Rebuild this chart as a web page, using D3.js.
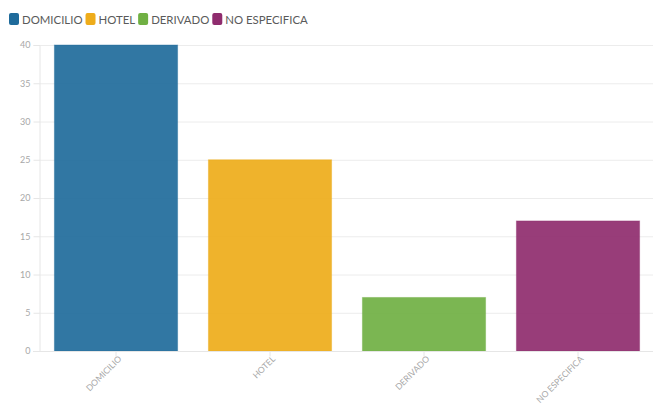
<!DOCTYPE html>
<html>
<head>
<meta charset="utf-8">
<script src="https://cdn.jsdelivr.net/npm/d3@7"></script>
<style>
  html, body { margin: 0; padding: 0; background: #fff; }
  svg { display: block; font-family: Lato, "Open Sans", sans-serif; }
</style>
</head>
<body>
<svg id="chart" width="653" height="405"></svg>
<script>
// Data
const categories = ["DOMICILIO", "HOTEL", "DERIVADO", "NO ESPECIFICA"];
const values = [40, 25, 7, 17];
const colors = ["#1f6b9b", "#eeac1a", "#70b043", "#8f2c6e"];
const yTicks = [0, 5, 10, 15, 20, 25, 30, 35, 40];

const svg = d3.select("#chart");
const margin = { top: 45, right: 0, bottom: 54, left: 39 };
const width = 653, height = 405;

const x = d3.scaleBand()
  .domain(categories)
  .range([margin.left, width - margin.right + 2])
  .paddingInner(0.2)
  .paddingOuter(0.1);

const y = d3.scaleLinear()
  .domain([0, 40])
  .range([height - margin.bottom, margin.top]);

// Horizontal grid lines
svg.append("g")
  .selectAll("line")
  .data(yTicks)
  .join("line")
  .attr("x1", margin.left)
  .attr("x2", width)
  .attr("y1", d => y(d) + 0.5)
  .attr("y2", d => y(d) + 0.5)
  .attr("stroke", "#ececec")
  .attr("stroke-width", 1);

// Y axis
const yAxis = svg.append("g")
  .attr("transform", `translate(${margin.left + 0.5},0)`)
  .call(d3.axisLeft(y).tickValues(yTicks).tickSize(6).tickPadding(3));
yAxis.select(".domain").attr("stroke", "#e6e6e6");
yAxis.selectAll(".tick line").attr("stroke", "#e6e6e6");
yAxis.selectAll(".tick text")
  .attr("fill", "#a8a8a8")
  .style("font-size", "9px")
  .style("font-family", "Lato, sans-serif");

// Bars
svg.append("g")
  .selectAll("rect")
  .data(categories)
  .join("rect")
  .attr("x", d => x(d))
  .attr("width", x.bandwidth())
  .attr("y", (d, i) => y(values[i]))
  .attr("height", (d, i) => y(0) - y(values[i]))
  .attr("fill", (d, i) => colors[i])
  .attr("fill-opacity", 0.92)
  .attr("stroke", (d, i) => colors[i])
  .attr("stroke-opacity", 0.4)
  .attr("stroke-width", 1);

// X axis
const xAxis = svg.append("g")
  .attr("transform", `translate(0,${y(0) + 0.5})`)
  .call(d3.axisBottom(x).tickSize(5).tickSizeOuter(0));
xAxis.select(".domain")
  .attr("stroke", "#e6e6e6")
  .attr("d", `M${margin.left - 6},0H${width}`);
xAxis.selectAll(".tick line").attr("stroke", "#e6e6e6");
xAxis.selectAll(".tick text")
  .attr("fill", "#a8a8a8")
  .style("font-size", "8.6px")
  .style("font-family", "Lato, sans-serif")
  .attr("text-anchor", "end")
  .attr("dy", null)
  .attr("y", 0)
  .attr("transform", "translate(6,8) rotate(-45)");

// Legend
const legend = svg.append("g").attr("transform", "translate(9,13)");
let lx = 0;
categories.forEach((c, i) => {
  const g = legend.append("g").attr("transform", `translate(${lx},0)`);
  g.append("rect")
    .attr("width", 10).attr("height", 12)
    .attr("rx", 2).attr("ry", 2)
    .attr("fill", colors[i]);
  const t = g.append("text")
    .attr("x", 13).attr("y", 11)
    .attr("fill", "#5a5a5a")
    .style("font-size", "11.4px")
    .text(c);
  lx += 13 + t.node().getComputedTextLength() + 3;
});
</script>
</body>
</html>
